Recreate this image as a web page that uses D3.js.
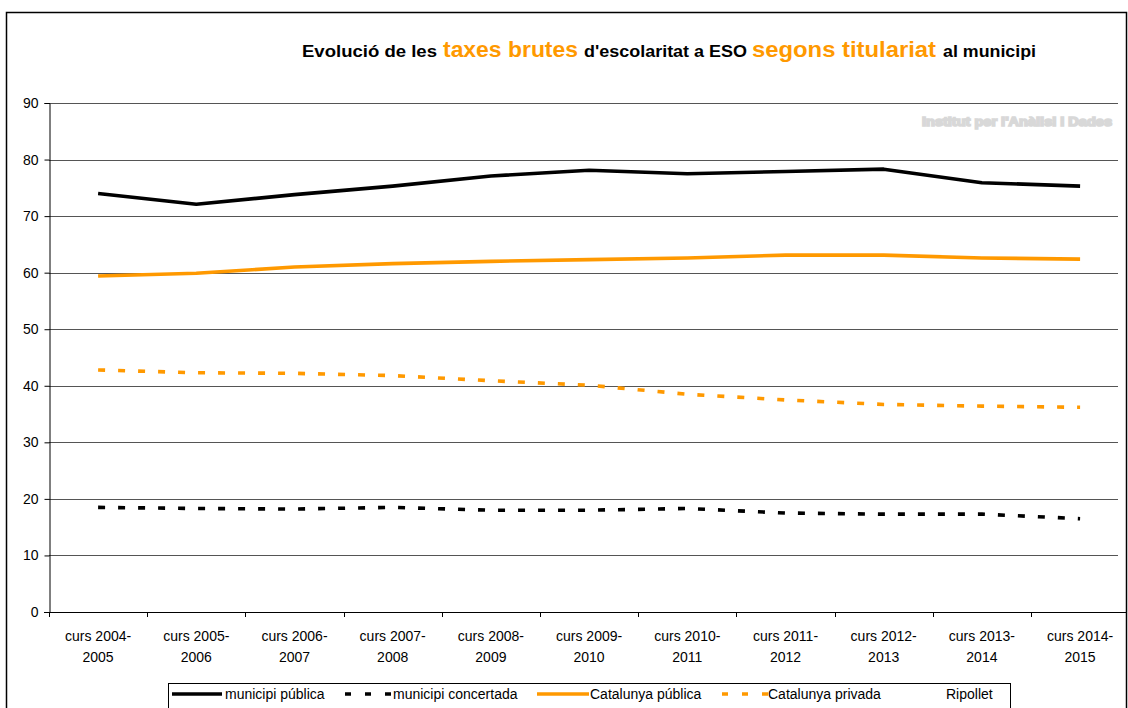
<!DOCTYPE html>
<html><head><meta charset="utf-8">
<script src="https://cdn.jsdelivr.net/npm/d3@7"></script>
<style>
html,body{margin:0;padding:0;background:#fff;}
svg{display:block;font-family:"Liberation Sans",Arial,sans-serif;}
</style></head>
<body>
<svg id="c" width="1128" height="708"></svg>
<script>
const categories = ["curs 2004-2005","curs 2005-2006","curs 2006-2007","curs 2007-2008","curs 2008-2009","curs 2009-2010","curs 2010-2011","curs 2011-2012","curs 2012-2013","curs 2013-2014","curs 2014-2015"];
const municipiPublica    = [74.0, 72.1, 73.8, 75.3, 77.1, 78.1, 77.5, 77.9, 78.3, 75.9, 75.3];
const municipiConcertada = [18.5, 18.3, 18.2, 18.5, 18.0, 18.0, 18.3, 17.5, 17.3, 17.3, 16.5];
const catalunyaPublica   = [59.4, 59.9, 61.0, 61.6, 62.0, 62.3, 62.6, 63.1, 63.1, 62.6, 62.4];
const catalunyaPrivada   = [42.8, 42.3, 42.2, 41.8, 40.9, 40.1, 38.5, 37.5, 36.7, 36.4, 36.2];
const yTicks = [0,10,20,30,40,50,60,70,80,90];
const legendLabels = ["municipi pública","municipi concertada","Catalunya pública","Catalunya privada","Ripollet"];

const ORANGE = "#FF9900";
const svg = d3.select("#c");

// outer frame
svg.append("rect").attr("x",6.5).attr("y",12.5).attr("width",1120).attr("height",720)
  .attr("fill","none").attr("stroke","#000").attr("stroke-width",1.5);

const x = d3.scaleBand().domain(categories).range([49, 49 + 11*98.2]).paddingInner(0).paddingOuter(0);
const y = d3.scaleLinear().domain([0,90]).range([612,103]);
const cx = c => x(c) + x.bandwidth()/2;

// gridlines
svg.append("g").selectAll("line").data(yTicks.filter(d=>d>0)).join("line")
  .attr("x1",49).attr("x2",1118)
  .attr("y1",d=>Math.round(y(d))+0.5).attr("y2",d=>Math.round(y(d))+0.5)
  .attr("stroke","#555").attr("stroke-width",1);

// y axis
const yAxis = d3.axisLeft(y).tickValues(yTicks).tickSize(5).tickPadding(6);
const gy = svg.append("g").attr("transform","translate(49.5,0)").call(yAxis);
gy.select(".domain").attr("stroke","#000");
gy.selectAll(".tick line").attr("stroke","#000");
gy.selectAll(".tick text").attr("font-size",14).attr("fill","#000").attr("font-family","Liberation Sans, Arial, sans-serif");

// x axis line and ticks at band edges
svg.append("line").attr("x1",44).attr("x2",1127).attr("y1",612.5).attr("y2",612.5).attr("stroke","#000");
svg.append("g").selectAll("line").data(categories).join("line")
  .attr("x1",d=>Math.round(x(d))+0.5).attr("x2",d=>Math.round(x(d))+0.5)
  .attr("y1",612).attr("y2",617).attr("stroke","#000");

// x labels (two lines)
const xl = svg.append("g").selectAll("text").data(categories).join("text")
  .attr("text-anchor","middle").attr("font-size",14).attr("fill","#000");
xl.append("tspan").attr("x",d=>cx(d)).attr("y",641).text(d=>d.split("-")[0]+"-");
xl.append("tspan").attr("x",d=>cx(d)).attr("y",662).text(d=>d.split("-")[1]);

// lines
const line = d3.line().x((d,i)=>cx(categories[i])).y(d=>y(d));
const series = [
  {v:municipiPublica, color:"#000", dash:null},
  {v:municipiConcertada, color:"#000", dash:"7,13"},
  {v:catalunyaPublica, color:ORANGE, dash:null},
  {v:catalunyaPrivada, color:ORANGE, dash:"7,13"}
];
series.forEach(s=>{
  svg.append("path").datum(s.v).attr("d",line).attr("fill","none")
    .attr("stroke",s.color).attr("stroke-width",3.6)
    .attr("stroke-linejoin","round")
    .attr("stroke-dasharray",s.dash);
});

// watermark (faint)
svg.append("text").attr("x",922).attr("y",126).attr("font-size",12).attr("font-weight","bold")
  .attr("fill","#d8d8d8").attr("stroke","#d8d8d8").attr("stroke-width",1.6)
  .attr("textLength",190).attr("lengthAdjust","spacingAndGlyphs")
  .text("Institut per l'Anàlisi i Dades");

// title
const titleParts = [
  {t:"Evolució de les", x:302, w:135, o:false},
  {t:"taxes brutes", x:443, w:135, o:true},
  {t:"d'escolaritat a ESO", x:584, w:163, o:false},
  {t:"segons titulariat", x:752, w:184, o:true},
  {t:"al municipi", x:943, w:93, o:false}
];
svg.append("g").selectAll("text").data(titleParts).join("text")
  .attr("x",d=>d.x).attr("y",57)
  .attr("font-size",d=>d.o?22:16.5).attr("font-weight","bold")
  .attr("fill",d=>d.o?ORANGE:"#000")
  .attr("textLength",d=>d.w).attr("lengthAdjust","spacingAndGlyphs")
  .text(d=>d.t);

// legend
svg.append("rect").attr("x",168.5).attr("y",683.5).attr("width",842).attr("height",40)
  .attr("fill","#fff").attr("stroke","#000").attr("stroke-width",1);
const legendItems = [
  {x1:172, x2:222, tx:225, color:"#000", dash:null},
  {x1:345, x2:392, tx:393, color:"#000", dash:"6,14"},
  {x1:537, x2:589, tx:590, color:ORANGE, dash:null},
  {x1:722, x2:768, tx:768, color:ORANGE, dash:"6,14"},
  {x1:null, x2:null, tx:946, color:null, dash:null}
];
legendItems.forEach((it,i)=>{
  if(it.color){
    svg.append("line").attr("x1",it.x1).attr("x2",it.x2).attr("y1",694).attr("y2",694)
      .attr("stroke",it.color).attr("stroke-width",3.6).attr("stroke-dasharray",it.dash);
  }
  svg.append("text").attr("x",it.tx).attr("y",699).attr("font-size",14).attr("fill","#000")
    .text(legendLabels[i]);
});
</script>
</body></html>
